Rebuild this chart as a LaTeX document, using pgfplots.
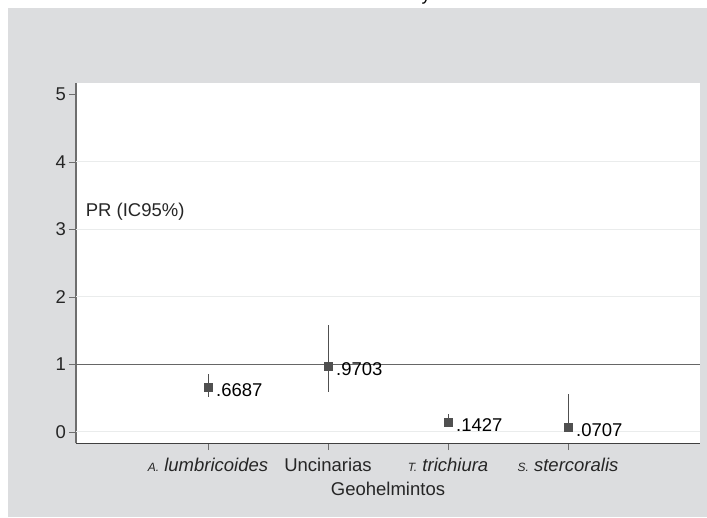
\documentclass[border=0pt]{standalone}
\usepackage{pgfplots}
\usepackage{pgfplotstable}
\pgfplotsset{compat=1.18}
\usepackage{fontspec}
\setmainfont{Liberation Sans}
\definecolor{bggrey}{RGB}{220,221,223}
\definecolor{mk}{RGB}{80,80,80}
\definecolor{axgrey}{RGB}{110,110,110}
\definecolor{gridgrey}{RGB}{234,236,236}
\pgfplotstableread{
x y ep em lab
1 0.6687 0.19 0.15 .6687
2 0.9703 0.615 0.382 .9703
3 0.1427 0.12 0.065 .1427
4 0.0707 0.487 0.056 .0707
}\datatable
\begin{document}
\begin{tikzpicture}[x=1pt,y=1pt]
\path[use as bounding box] (-76,-74) rectangle (631,443);
\fill[white] (-76,-74) rectangle (631,443);
\fill[bggrey] (-68,-74) rectangle (631,435);
\node[anchor=base,inner sep=0pt] at (350,442) {\fontsize{18}{18}\selectfont y};
\begin{axis}[
  at={(0,0)}, anchor=south west,
  scale only axis, width=624pt, height=360pt,
  xmin=-0.1, xmax=5.1, ymin=-0.163, ymax=5.17,
  axis x line=bottom, axis y line=left,
  axis line style={-},
  x axis line style={draw=black!75, line width=1pt},
  y axis line style={draw=axgrey, line width=1.3pt},
  axis background/.style={fill=white},
  xtick={1,2,3,4},
  xticklabels={
    {\textit{{\fontsize{12}{12}\selectfont A.} lumbricoides}},
    {Uncinarias},
    {\textit{{\fontsize{12}{12}\selectfont T.} trichiura}},
    {\textit{{\fontsize{12}{12}\selectfont S.} stercoralis}}},
  ytick={0,1,2,3,4,5},
  tick align=outside, major tick length=7pt,
  tick style={draw=axgrey, line width=0.8pt},
  xtick pos=bottom, ytick pos=left,
  /pgf/number format/assume math mode=true,
  ticklabel style={font=\fontsize{18.5}{18.5}\selectfont, text=black!85},
  yticklabel style={inner sep=1pt, xshift=-2pt},
  xticklabel style={yshift=-5pt},
  xlabel={Geohelmintos},
  xlabel style={font=\fontsize{18.5}{18.5}\selectfont, text=black!85, yshift=-3pt},
  clip=false,
]
\draw[gridgrey, line width=1pt] (axis cs:-0.1,0) -- (axis cs:5.1,0);
\draw[gridgrey, line width=1pt] (axis cs:-0.1,2) -- (axis cs:5.1,2);
\draw[gridgrey, line width=1pt] (axis cs:-0.1,3) -- (axis cs:5.1,3);
\draw[gridgrey, line width=1pt] (axis cs:-0.1,4) -- (axis cs:5.1,4);
\draw[black!60, line width=1pt] (axis cs:-0.1,1) -- (axis cs:5.1,1);
\addplot[only marks, mark=square*, mark size=4pt,
  mark options={fill=mk, draw=mk},
  error bars/.cd, y dir=both, y explicit, error mark=none,
  error bar style={draw=mk, line width=1pt}]
  table[x=x, y=y, y error plus=ep, y error minus=em] {\datatable};
\addplot[only marks, mark=none,
  point meta=explicit symbolic,
  nodes near coords,
  every node near coord/.append style={anchor=west, inner sep=0pt, xshift=8pt, yshift=-3pt, font=\fontsize{18.5}{18.5}\selectfont, text=black}]
  table[x=x, y=y, meta=lab] {\datatable};
\node[anchor=west, inner sep=0pt, font=\fontsize{18.5}{18.5}\selectfont, text=black!85] at (axis cs:-0.02,3.264) {PR (IC95\%)};
\end{axis}
\end{tikzpicture}
\end{document}
